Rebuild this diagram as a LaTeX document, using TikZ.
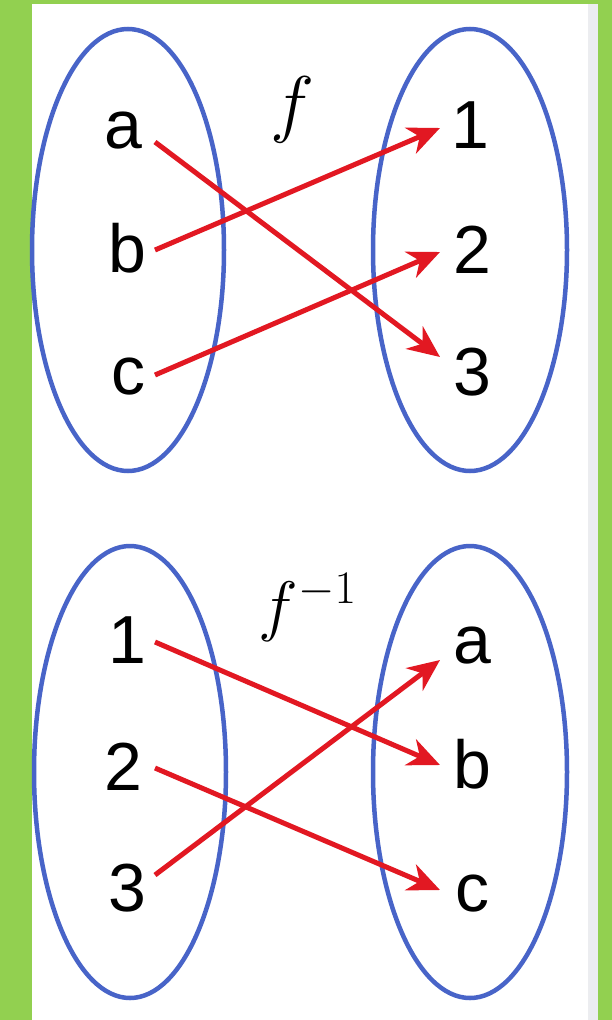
\documentclass[tikz,border=0pt]{standalone}
\usepackage{fontspec}
\newfontfamily\labfont{Liberation Sans}
\usetikzlibrary{arrows.meta}
\definecolor{bggreen}{RGB}{146,208,80}
\definecolor{stripgray}{RGB}{236,237,240}
\definecolor{setblue}{RGB}{72,100,200}
\definecolor{maparrow}{RGB}{226,24,34}
\tikzset{
  setellipse/.style={draw=setblue, line width=4.5pt},
  elem/.style={font=\labfont\fontsize{68}{80}\selectfont, anchor=base, inner sep=0pt},
  maplabel/.style={font=\fontsize{24}{28}\selectfont, anchor=base, inner sep=0pt, scale=3, transform shape},
  maplabelinv/.style={font=\fontsize{24}{28}\selectfont, anchor=base, inner sep=0pt, scale=2.7, transform shape},
  maparr/.style={draw=maparrow, line width=5pt, -{Stealth[length=32pt,width=28pt,inset=10pt]}}
}
\begin{document}
\begin{tikzpicture}[x=1pt,y=-1pt]
\useasboundingbox (0,0) rectangle (612,1020);
\fill[bggreen] (0,0) rectangle (612,1020);
\fill[white] (32,4) rectangle (598,1020);
\fill[stripgray] (588,4) rectangle (598,1020);
% ellipses
\draw[setellipse] (128,250) ellipse [x radius=96, y radius=221];
\draw[setellipse] (470,250) ellipse [x radius=97, y radius=221];
\draw[setellipse] (130,772) ellipse [x radius=96, y radius=226];
\draw[setellipse] (470,772) ellipse [x radius=97, y radius=226];
% top labels
\node[elem] (ta) at (123,148) {a};
\node[elem] (tb) at (127,272) {b};
\node[elem] (tc) at (128,394) {c};
\node[elem] (t1) at (470,148) {1};
\node[elem] (t2) at (472,273) {2};
\node[elem] (t3) at (472,395) {3};
\node[maplabel] (f) at (292,128) {$f$};
% bottom labels
\node[elem] (b1) at (127,663) {1};
\node[elem] (b2) at (123,790) {2};
\node[elem] (b3) at (127,911) {3};
\node[elem] (ba) at (472,663) {a};
\node[elem] (bb) at (472,788) {b};
\node[elem] (bc) at (472,911) {c};
\node[maplabelinv] (finv) at (308,628) {$f^{-1}$};
% connector endpoints
\coordinate (sa) at (155,142);
\coordinate (sb) at (155,250);
\coordinate (sc) at (155,375);
\coordinate (e1) at (440,128);
\coordinate (e2) at (440,252);
\coordinate (e3) at (440,357);
\coordinate (s1) at (155,642);
\coordinate (s2) at (155,768);
\coordinate (s3) at (155,875);
\coordinate (ea) at (440,660);
\coordinate (eb) at (440,765);
\coordinate (ec) at (440,890);
% arrows
\draw[maparr] (sa) -- (e3);
\draw[maparr] (sb) -- (e1);
\draw[maparr] (sc) -- (e2);
\draw[maparr] (s1) -- (eb);
\draw[maparr] (s2) -- (ec);
\draw[maparr] (s3) -- (ea);
\end{tikzpicture}
\end{document}
